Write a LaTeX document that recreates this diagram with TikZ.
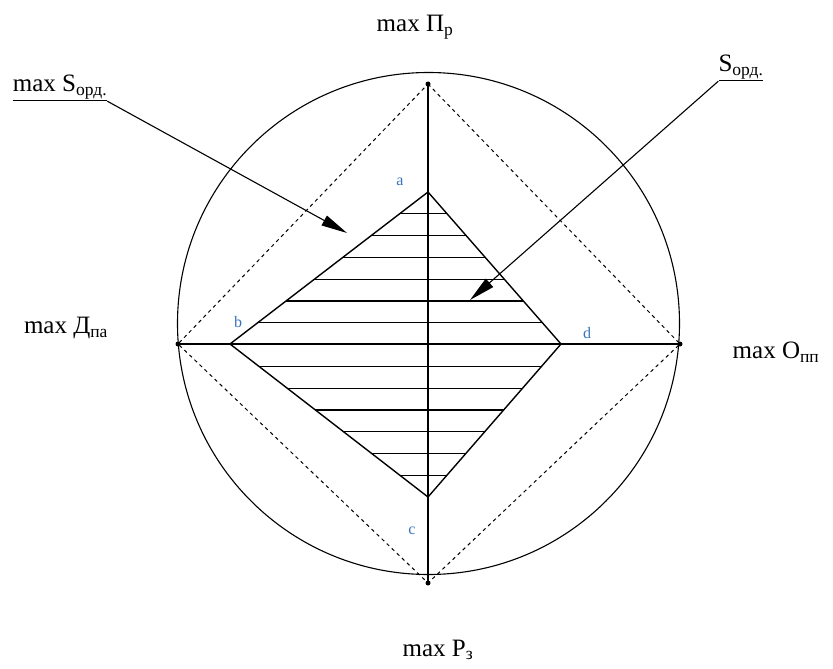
\documentclass[tikz,border=0pt]{standalone}
\usepackage{fontspec}
\setmainfont{Liberation Serif}
\usetikzlibrary{arrows.meta, positioning, calc}
\definecolor{vtxblue}{RGB}{55,115,190}

\begin{document}
\begin{tikzpicture}[
        x=1pt, y=-1pt,
        axis/.style={line width=1.1pt},
        guide/.style={line width=1pt, dash pattern=on 3.5pt off 3.5pt},
        zone/.style={line width=1.4pt},
        hatch/.style={line width=1.2pt},
        lbl/.style={font=\fontsize{25}{28}\selectfont, inner sep=0pt},
        vtx/.style={font=\fontsize{16}{18}\selectfont, text=vtxblue, inner sep=0pt},
        endpt/.style={circle, fill=black, inner sep=0pt, minimum size=5pt},
        ptr/.style={-{Triangle[length=26pt, width=11pt]}, line width=1.1pt},
    ]
    \useasboundingbox (0,0) rectangle (833,669);

    \coordinate (top) at (428,84);
    \coordinate (bottom) at (428,583);
    \coordinate (left) at (178,344);
    \coordinate (right) at (680,344);

    \coordinate (a) at (428,192);
    \coordinate (b) at (230,344);
    \coordinate (c) at (428,497);
    \coordinate (d) at (561,344);

    \draw[axis] (428.5,323.5) circle[radius=251];
    \draw[guide] (top) -- (right) -- (bottom) -- (left) -- cycle;

    \begin{scope}
        \clip (a) -- (d) -- (c) -- (b) -- cycle;
        \foreach \k in {1,...,13}
            \draw[hatch] (150,{192+\k*21.79}) -- (700,{192+\k*21.79});
    \end{scope}
    \draw[zone] (a) -- (d) -- (c) -- (b) -- cycle;

    \draw[axis] (top) -- (bottom);
    \draw[axis] (left) -- (right);
    \foreach \p in {top, bottom, left, right}
        \node[endpt] (dot\p) at (\p) {};

    \node[vtx] (la) at (400,182) {a};
    \node[vtx] (lb) at (238,322) {b};
    \node[vtx] (lc) at (412,531) {c};
    \node[vtx] (ld) at (587,333) {d};

    \node[lbl] (maxP) at (415,27) {max П\textsubscript{р}};
    \node[lbl] (maxD) at (66,328) {max Д\textsubscript{па}};
    \node[lbl] (maxO) at (776,352) {max O\textsubscript{пп}};
    \node[lbl] (maxR) at (438,650) {max Р\textsubscript{з}};

    \node[lbl] (maxS) at (60,88) {\underline{max S\textsubscript{орд.}}};
    \node[lbl] (Sord) at (741,68) {\underline{S\textsubscript{орд.}}};

    \coordinate (maxStip) at (347,233);
    \coordinate (Sordtip) at (470,300);
    \draw[ptr] (maxS.south east) -- (maxStip);
    \draw[ptr] (Sord.south west) -- (Sordtip);
\end{tikzpicture}
\end{document}
